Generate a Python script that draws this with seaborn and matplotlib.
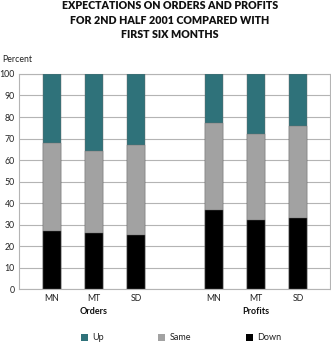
import matplotlib
matplotlib.use("Agg")
import matplotlib.pyplot as plt
import matplotlib.transforms as mtransforms
from matplotlib.patches import Patch
import numpy as np
import pandas as pd
import seaborn as sns

# Survey categories
groups = ["Orders", "Profits"]
regions = ["MN", "MT", "SD"]

# Percent of respondents per answer (Orders MN, MT, SD, then Profits MN, MT, SD)
down = [27, 26, 25, 37, 32, 33]
same = [41, 38, 42, 40, 40, 43]
up = [32, 36, 33, 23, 28, 24]

series_names = ["Up", "Same", "Down"]
colors = {"Up": "#2f727a", "Same": "#a2a2a2", "Down": "#000000"}

y_ticks = list(range(0, 101, 10))

sns.set_style("white")
plt.rcParams["font.family"] = ["Lato", "DejaVu Sans"]

# bar positions: three regions per group, with a wider gap between groups
group_gap = 0.857
pos = []
for g in range(len(groups)):
    for r in range(len(regions)):
        pos.append(g * (len(regions) + group_gap) + r)

df = pd.DataFrame({
    "pos": pos,
    "Down": down,
    "Same": same,
    "Up": up,
})
df["top_down"] = df["Down"]
df["top_same"] = df["Down"] + df["Same"]
df["top_up"] = df["Down"] + df["Same"] + df["Up"]

fig = plt.figure(figsize=(3.31, 3.44), dpi=100)
ax = fig.add_axes([0.0574, 0.159, 0.94, 0.626])

grid_c = "#b4b4b4"
# stacked bars drawn as overlaid cumulative totals
for col, name in [("top_up", "Up"), ("top_same", "Same"), ("top_down", "Down")]:
    sns.barplot(data=df, x="pos", y=col, native_scale=True, color=colors[name],
                width=0.43, saturation=1, edgecolor="#6a6a6a", linewidth=0.3,
                ax=ax, zorder=3)

ax.set_ylim(0, 100)
ax.set_xlim(pos[0] - 0.786, pos[-1] + 0.762)
ax.set_yticks(y_ticks)
ax.set_yticklabels([str(t) for t in y_ticks], fontsize=6.3, color="#222222")
ax.set_xticks(pos)
ax.set_xticklabels(regions * len(groups), fontsize=6.3, color="#222222")
ax.tick_params(axis="both", length=0)
ax.tick_params(axis="y", pad=3)
ax.tick_params(axis="x", pad=3.5)
ax.set_xlabel("")
ax.set_ylabel("")
ax.yaxis.grid(True, color=grid_c, linewidth=0.8, zorder=0)
ax.set_axisbelow(True)
for s in ax.spines.values():
    s.set_visible(True)
    s.set_color(grid_c)
    s.set_linewidth(0.8)

# group labels under the middle bar of each group
trans = mtransforms.blended_transform_factory(ax.transData, fig.transFigure)
for g, name in enumerate(groups):
    cx = pos[g * len(regions) + 1]
    ax.text(cx, 1 - 311 / 344, name, transform=trans, ha="center", va="center",
            fontsize=6.5, fontweight="bold", color="#111111")

fig.text(2 / 331, 1 - 60 / 344, "Percent", ha="left", va="center",
         fontsize=6.3, color="#222222")

fig.text(170 / 331, 1 - 20 / 344,
         "EXPECTATIONS ON ORDERS AND PROFITS\nFOR 2ND HALF 2001 COMPARED WITH\nFIRST SIX MONTHS",
         ha="center", va="center", fontsize=7.7, fontweight="heavy",
         linespacing=1.42, color="#111111")

handles = [Patch(facecolor=colors[n], edgecolor="none", label=n) for n in series_names]
fig.legend(handles=handles, loc="center", bbox_to_anchor=(181 / 331, 1 - 338 / 344),
           ncol=3, frameon=False, fontsize=6.5, handlelength=0.8, handleheight=0.8,
           handletextpad=0.5, columnspacing=6.0, labelcolor="#222222")

fig.savefig("out.png", dpi=100)
